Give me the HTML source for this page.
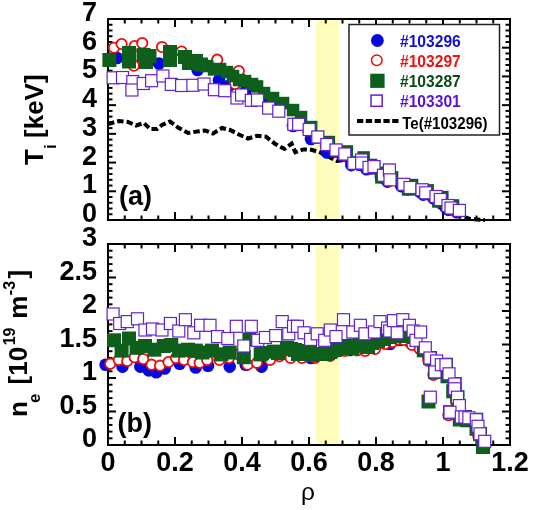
<!DOCTYPE html>
<html><head><meta charset="utf-8"><style>html,body{margin:0;padding:0;background:#fff;}svg{display:block;will-change:transform;}</style></head>
<body><svg width="533" height="510" viewBox="0 0 533 510">
<rect x="0" y="0" width="533" height="510" fill="#fff"/>
<rect x="316" y="20" width="23" height="199" fill="#fffcbc"/>
<rect x="316" y="245" width="23" height="199" fill="#fffcbc"/>
<rect x="108" y="19" width="402" height="201" fill="none" stroke="#000" stroke-width="2"/>
<line x1="124.75" y1="219" x2="124.75" y2="215.5" stroke="#000" stroke-width="2"/>
<line x1="124.75" y1="20" x2="124.75" y2="23.5" stroke="#000" stroke-width="2"/>
<line x1="141.5" y1="219" x2="141.5" y2="215.5" stroke="#000" stroke-width="2"/>
<line x1="141.5" y1="20" x2="141.5" y2="23.5" stroke="#000" stroke-width="2"/>
<line x1="158.25" y1="219" x2="158.25" y2="215.5" stroke="#000" stroke-width="2"/>
<line x1="158.25" y1="20" x2="158.25" y2="23.5" stroke="#000" stroke-width="2"/>
<line x1="175.0" y1="219" x2="175.0" y2="212" stroke="#000" stroke-width="2"/>
<line x1="175.0" y1="20" x2="175.0" y2="27" stroke="#000" stroke-width="2"/>
<line x1="191.75" y1="219" x2="191.75" y2="215.5" stroke="#000" stroke-width="2"/>
<line x1="191.75" y1="20" x2="191.75" y2="23.5" stroke="#000" stroke-width="2"/>
<line x1="208.5" y1="219" x2="208.5" y2="215.5" stroke="#000" stroke-width="2"/>
<line x1="208.5" y1="20" x2="208.5" y2="23.5" stroke="#000" stroke-width="2"/>
<line x1="225.25" y1="219" x2="225.25" y2="215.5" stroke="#000" stroke-width="2"/>
<line x1="225.25" y1="20" x2="225.25" y2="23.5" stroke="#000" stroke-width="2"/>
<line x1="242.0" y1="219" x2="242.0" y2="212" stroke="#000" stroke-width="2"/>
<line x1="242.0" y1="20" x2="242.0" y2="27" stroke="#000" stroke-width="2"/>
<line x1="258.75" y1="219" x2="258.75" y2="215.5" stroke="#000" stroke-width="2"/>
<line x1="258.75" y1="20" x2="258.75" y2="23.5" stroke="#000" stroke-width="2"/>
<line x1="275.5" y1="219" x2="275.5" y2="215.5" stroke="#000" stroke-width="2"/>
<line x1="275.5" y1="20" x2="275.5" y2="23.5" stroke="#000" stroke-width="2"/>
<line x1="292.25" y1="219" x2="292.25" y2="215.5" stroke="#000" stroke-width="2"/>
<line x1="292.25" y1="20" x2="292.25" y2="23.5" stroke="#000" stroke-width="2"/>
<line x1="309.0" y1="219" x2="309.0" y2="212" stroke="#000" stroke-width="2"/>
<line x1="309.0" y1="20" x2="309.0" y2="27" stroke="#000" stroke-width="2"/>
<line x1="325.75" y1="219" x2="325.75" y2="215.5" stroke="#000" stroke-width="2"/>
<line x1="325.75" y1="20" x2="325.75" y2="23.5" stroke="#000" stroke-width="2"/>
<line x1="342.5" y1="219" x2="342.5" y2="215.5" stroke="#000" stroke-width="2"/>
<line x1="342.5" y1="20" x2="342.5" y2="23.5" stroke="#000" stroke-width="2"/>
<line x1="359.25" y1="219" x2="359.25" y2="215.5" stroke="#000" stroke-width="2"/>
<line x1="359.25" y1="20" x2="359.25" y2="23.5" stroke="#000" stroke-width="2"/>
<line x1="376.0" y1="219" x2="376.0" y2="212" stroke="#000" stroke-width="2"/>
<line x1="376.0" y1="20" x2="376.0" y2="27" stroke="#000" stroke-width="2"/>
<line x1="392.75000000000006" y1="219" x2="392.75000000000006" y2="215.5" stroke="#000" stroke-width="2"/>
<line x1="392.75000000000006" y1="20" x2="392.75000000000006" y2="23.5" stroke="#000" stroke-width="2"/>
<line x1="409.5" y1="219" x2="409.5" y2="215.5" stroke="#000" stroke-width="2"/>
<line x1="409.5" y1="20" x2="409.5" y2="23.5" stroke="#000" stroke-width="2"/>
<line x1="426.25" y1="219" x2="426.25" y2="215.5" stroke="#000" stroke-width="2"/>
<line x1="426.25" y1="20" x2="426.25" y2="23.5" stroke="#000" stroke-width="2"/>
<line x1="443.0" y1="219" x2="443.0" y2="212" stroke="#000" stroke-width="2"/>
<line x1="443.0" y1="20" x2="443.0" y2="27" stroke="#000" stroke-width="2"/>
<line x1="459.75" y1="219" x2="459.75" y2="215.5" stroke="#000" stroke-width="2"/>
<line x1="459.75" y1="20" x2="459.75" y2="23.5" stroke="#000" stroke-width="2"/>
<line x1="476.50000000000006" y1="219" x2="476.50000000000006" y2="215.5" stroke="#000" stroke-width="2"/>
<line x1="476.50000000000006" y1="20" x2="476.50000000000006" y2="23.5" stroke="#000" stroke-width="2"/>
<line x1="493.25000000000006" y1="219" x2="493.25000000000006" y2="215.5" stroke="#000" stroke-width="2"/>
<line x1="493.25000000000006" y1="20" x2="493.25000000000006" y2="23.5" stroke="#000" stroke-width="2"/>
<line x1="109" y1="214.25714285714287" x2="112.5" y2="214.25714285714287" stroke="#000" stroke-width="2"/>
<line x1="509" y1="214.25714285714287" x2="505.5" y2="214.25714285714287" stroke="#000" stroke-width="2"/>
<line x1="109" y1="208.5142857142857" x2="112.5" y2="208.5142857142857" stroke="#000" stroke-width="2"/>
<line x1="509" y1="208.5142857142857" x2="505.5" y2="208.5142857142857" stroke="#000" stroke-width="2"/>
<line x1="109" y1="202.77142857142857" x2="112.5" y2="202.77142857142857" stroke="#000" stroke-width="2"/>
<line x1="509" y1="202.77142857142857" x2="505.5" y2="202.77142857142857" stroke="#000" stroke-width="2"/>
<line x1="109" y1="197.02857142857144" x2="112.5" y2="197.02857142857144" stroke="#000" stroke-width="2"/>
<line x1="509" y1="197.02857142857144" x2="505.5" y2="197.02857142857144" stroke="#000" stroke-width="2"/>
<line x1="109" y1="191.28571428571428" x2="116" y2="191.28571428571428" stroke="#000" stroke-width="2"/>
<line x1="509" y1="191.28571428571428" x2="502" y2="191.28571428571428" stroke="#000" stroke-width="2"/>
<line x1="109" y1="185.54285714285714" x2="112.5" y2="185.54285714285714" stroke="#000" stroke-width="2"/>
<line x1="509" y1="185.54285714285714" x2="505.5" y2="185.54285714285714" stroke="#000" stroke-width="2"/>
<line x1="109" y1="179.8" x2="112.5" y2="179.8" stroke="#000" stroke-width="2"/>
<line x1="509" y1="179.8" x2="505.5" y2="179.8" stroke="#000" stroke-width="2"/>
<line x1="109" y1="174.05714285714285" x2="112.5" y2="174.05714285714285" stroke="#000" stroke-width="2"/>
<line x1="509" y1="174.05714285714285" x2="505.5" y2="174.05714285714285" stroke="#000" stroke-width="2"/>
<line x1="109" y1="168.31428571428572" x2="112.5" y2="168.31428571428572" stroke="#000" stroke-width="2"/>
<line x1="509" y1="168.31428571428572" x2="505.5" y2="168.31428571428572" stroke="#000" stroke-width="2"/>
<line x1="109" y1="162.57142857142856" x2="116" y2="162.57142857142856" stroke="#000" stroke-width="2"/>
<line x1="509" y1="162.57142857142856" x2="502" y2="162.57142857142856" stroke="#000" stroke-width="2"/>
<line x1="109" y1="156.82857142857142" x2="112.5" y2="156.82857142857142" stroke="#000" stroke-width="2"/>
<line x1="509" y1="156.82857142857142" x2="505.5" y2="156.82857142857142" stroke="#000" stroke-width="2"/>
<line x1="109" y1="151.0857142857143" x2="112.5" y2="151.0857142857143" stroke="#000" stroke-width="2"/>
<line x1="509" y1="151.0857142857143" x2="505.5" y2="151.0857142857143" stroke="#000" stroke-width="2"/>
<line x1="109" y1="145.34285714285716" x2="112.5" y2="145.34285714285716" stroke="#000" stroke-width="2"/>
<line x1="509" y1="145.34285714285716" x2="505.5" y2="145.34285714285716" stroke="#000" stroke-width="2"/>
<line x1="109" y1="139.6" x2="112.5" y2="139.6" stroke="#000" stroke-width="2"/>
<line x1="509" y1="139.6" x2="505.5" y2="139.6" stroke="#000" stroke-width="2"/>
<line x1="109" y1="133.85714285714286" x2="116" y2="133.85714285714286" stroke="#000" stroke-width="2"/>
<line x1="509" y1="133.85714285714286" x2="502" y2="133.85714285714286" stroke="#000" stroke-width="2"/>
<line x1="109" y1="128.1142857142857" x2="112.5" y2="128.1142857142857" stroke="#000" stroke-width="2"/>
<line x1="509" y1="128.1142857142857" x2="505.5" y2="128.1142857142857" stroke="#000" stroke-width="2"/>
<line x1="109" y1="122.37142857142857" x2="112.5" y2="122.37142857142857" stroke="#000" stroke-width="2"/>
<line x1="509" y1="122.37142857142857" x2="505.5" y2="122.37142857142857" stroke="#000" stroke-width="2"/>
<line x1="109" y1="116.62857142857143" x2="112.5" y2="116.62857142857143" stroke="#000" stroke-width="2"/>
<line x1="509" y1="116.62857142857143" x2="505.5" y2="116.62857142857143" stroke="#000" stroke-width="2"/>
<line x1="109" y1="110.88571428571429" x2="112.5" y2="110.88571428571429" stroke="#000" stroke-width="2"/>
<line x1="509" y1="110.88571428571429" x2="505.5" y2="110.88571428571429" stroke="#000" stroke-width="2"/>
<line x1="109" y1="105.14285714285714" x2="116" y2="105.14285714285714" stroke="#000" stroke-width="2"/>
<line x1="509" y1="105.14285714285714" x2="502" y2="105.14285714285714" stroke="#000" stroke-width="2"/>
<line x1="109" y1="99.4" x2="112.5" y2="99.4" stroke="#000" stroke-width="2"/>
<line x1="509" y1="99.4" x2="505.5" y2="99.4" stroke="#000" stroke-width="2"/>
<line x1="109" y1="93.65714285714286" x2="112.5" y2="93.65714285714286" stroke="#000" stroke-width="2"/>
<line x1="509" y1="93.65714285714286" x2="505.5" y2="93.65714285714286" stroke="#000" stroke-width="2"/>
<line x1="109" y1="87.91428571428571" x2="112.5" y2="87.91428571428571" stroke="#000" stroke-width="2"/>
<line x1="509" y1="87.91428571428571" x2="505.5" y2="87.91428571428571" stroke="#000" stroke-width="2"/>
<line x1="109" y1="82.17142857142858" x2="112.5" y2="82.17142857142858" stroke="#000" stroke-width="2"/>
<line x1="509" y1="82.17142857142858" x2="505.5" y2="82.17142857142858" stroke="#000" stroke-width="2"/>
<line x1="109" y1="76.42857142857142" x2="116" y2="76.42857142857142" stroke="#000" stroke-width="2"/>
<line x1="509" y1="76.42857142857142" x2="502" y2="76.42857142857142" stroke="#000" stroke-width="2"/>
<line x1="109" y1="70.68571428571428" x2="112.5" y2="70.68571428571428" stroke="#000" stroke-width="2"/>
<line x1="509" y1="70.68571428571428" x2="505.5" y2="70.68571428571428" stroke="#000" stroke-width="2"/>
<line x1="109" y1="64.94285714285715" x2="112.5" y2="64.94285714285715" stroke="#000" stroke-width="2"/>
<line x1="509" y1="64.94285714285715" x2="505.5" y2="64.94285714285715" stroke="#000" stroke-width="2"/>
<line x1="109" y1="59.19999999999999" x2="112.5" y2="59.19999999999999" stroke="#000" stroke-width="2"/>
<line x1="509" y1="59.19999999999999" x2="505.5" y2="59.19999999999999" stroke="#000" stroke-width="2"/>
<line x1="109" y1="53.457142857142856" x2="112.5" y2="53.457142857142856" stroke="#000" stroke-width="2"/>
<line x1="509" y1="53.457142857142856" x2="505.5" y2="53.457142857142856" stroke="#000" stroke-width="2"/>
<line x1="109" y1="47.71428571428572" x2="116" y2="47.71428571428572" stroke="#000" stroke-width="2"/>
<line x1="509" y1="47.71428571428572" x2="502" y2="47.71428571428572" stroke="#000" stroke-width="2"/>
<line x1="109" y1="41.97142857142856" x2="112.5" y2="41.97142857142856" stroke="#000" stroke-width="2"/>
<line x1="509" y1="41.97142857142856" x2="505.5" y2="41.97142857142856" stroke="#000" stroke-width="2"/>
<line x1="109" y1="36.22857142857143" x2="112.5" y2="36.22857142857143" stroke="#000" stroke-width="2"/>
<line x1="509" y1="36.22857142857143" x2="505.5" y2="36.22857142857143" stroke="#000" stroke-width="2"/>
<line x1="109" y1="30.485714285714295" x2="112.5" y2="30.485714285714295" stroke="#000" stroke-width="2"/>
<line x1="509" y1="30.485714285714295" x2="505.5" y2="30.485714285714295" stroke="#000" stroke-width="2"/>
<line x1="109" y1="24.742857142857133" x2="112.5" y2="24.742857142857133" stroke="#000" stroke-width="2"/>
<line x1="509" y1="24.742857142857133" x2="505.5" y2="24.742857142857133" stroke="#000" stroke-width="2"/>
<rect x="108" y="244" width="402" height="201" fill="none" stroke="#000" stroke-width="2"/>
<line x1="124.75" y1="444" x2="124.75" y2="440.5" stroke="#000" stroke-width="2"/>
<line x1="124.75" y1="245" x2="124.75" y2="248.5" stroke="#000" stroke-width="2"/>
<line x1="141.5" y1="444" x2="141.5" y2="440.5" stroke="#000" stroke-width="2"/>
<line x1="141.5" y1="245" x2="141.5" y2="248.5" stroke="#000" stroke-width="2"/>
<line x1="158.25" y1="444" x2="158.25" y2="440.5" stroke="#000" stroke-width="2"/>
<line x1="158.25" y1="245" x2="158.25" y2="248.5" stroke="#000" stroke-width="2"/>
<line x1="175.0" y1="444" x2="175.0" y2="437" stroke="#000" stroke-width="2"/>
<line x1="175.0" y1="245" x2="175.0" y2="252" stroke="#000" stroke-width="2"/>
<line x1="191.75" y1="444" x2="191.75" y2="440.5" stroke="#000" stroke-width="2"/>
<line x1="191.75" y1="245" x2="191.75" y2="248.5" stroke="#000" stroke-width="2"/>
<line x1="208.5" y1="444" x2="208.5" y2="440.5" stroke="#000" stroke-width="2"/>
<line x1="208.5" y1="245" x2="208.5" y2="248.5" stroke="#000" stroke-width="2"/>
<line x1="225.25" y1="444" x2="225.25" y2="440.5" stroke="#000" stroke-width="2"/>
<line x1="225.25" y1="245" x2="225.25" y2="248.5" stroke="#000" stroke-width="2"/>
<line x1="242.0" y1="444" x2="242.0" y2="437" stroke="#000" stroke-width="2"/>
<line x1="242.0" y1="245" x2="242.0" y2="252" stroke="#000" stroke-width="2"/>
<line x1="258.75" y1="444" x2="258.75" y2="440.5" stroke="#000" stroke-width="2"/>
<line x1="258.75" y1="245" x2="258.75" y2="248.5" stroke="#000" stroke-width="2"/>
<line x1="275.5" y1="444" x2="275.5" y2="440.5" stroke="#000" stroke-width="2"/>
<line x1="275.5" y1="245" x2="275.5" y2="248.5" stroke="#000" stroke-width="2"/>
<line x1="292.25" y1="444" x2="292.25" y2="440.5" stroke="#000" stroke-width="2"/>
<line x1="292.25" y1="245" x2="292.25" y2="248.5" stroke="#000" stroke-width="2"/>
<line x1="309.0" y1="444" x2="309.0" y2="437" stroke="#000" stroke-width="2"/>
<line x1="309.0" y1="245" x2="309.0" y2="252" stroke="#000" stroke-width="2"/>
<line x1="325.75" y1="444" x2="325.75" y2="440.5" stroke="#000" stroke-width="2"/>
<line x1="325.75" y1="245" x2="325.75" y2="248.5" stroke="#000" stroke-width="2"/>
<line x1="342.5" y1="444" x2="342.5" y2="440.5" stroke="#000" stroke-width="2"/>
<line x1="342.5" y1="245" x2="342.5" y2="248.5" stroke="#000" stroke-width="2"/>
<line x1="359.25" y1="444" x2="359.25" y2="440.5" stroke="#000" stroke-width="2"/>
<line x1="359.25" y1="245" x2="359.25" y2="248.5" stroke="#000" stroke-width="2"/>
<line x1="376.0" y1="444" x2="376.0" y2="437" stroke="#000" stroke-width="2"/>
<line x1="376.0" y1="245" x2="376.0" y2="252" stroke="#000" stroke-width="2"/>
<line x1="392.75000000000006" y1="444" x2="392.75000000000006" y2="440.5" stroke="#000" stroke-width="2"/>
<line x1="392.75000000000006" y1="245" x2="392.75000000000006" y2="248.5" stroke="#000" stroke-width="2"/>
<line x1="409.5" y1="444" x2="409.5" y2="440.5" stroke="#000" stroke-width="2"/>
<line x1="409.5" y1="245" x2="409.5" y2="248.5" stroke="#000" stroke-width="2"/>
<line x1="426.25" y1="444" x2="426.25" y2="440.5" stroke="#000" stroke-width="2"/>
<line x1="426.25" y1="245" x2="426.25" y2="248.5" stroke="#000" stroke-width="2"/>
<line x1="443.0" y1="444" x2="443.0" y2="437" stroke="#000" stroke-width="2"/>
<line x1="443.0" y1="245" x2="443.0" y2="252" stroke="#000" stroke-width="2"/>
<line x1="459.75" y1="444" x2="459.75" y2="440.5" stroke="#000" stroke-width="2"/>
<line x1="459.75" y1="245" x2="459.75" y2="248.5" stroke="#000" stroke-width="2"/>
<line x1="476.50000000000006" y1="444" x2="476.50000000000006" y2="440.5" stroke="#000" stroke-width="2"/>
<line x1="476.50000000000006" y1="245" x2="476.50000000000006" y2="248.5" stroke="#000" stroke-width="2"/>
<line x1="493.25000000000006" y1="444" x2="493.25000000000006" y2="440.5" stroke="#000" stroke-width="2"/>
<line x1="493.25000000000006" y1="245" x2="493.25000000000006" y2="248.5" stroke="#000" stroke-width="2"/>
<line x1="109" y1="438.3" x2="112.5" y2="438.3" stroke="#000" stroke-width="2"/>
<line x1="509" y1="438.3" x2="505.5" y2="438.3" stroke="#000" stroke-width="2"/>
<line x1="109" y1="431.6" x2="112.5" y2="431.6" stroke="#000" stroke-width="2"/>
<line x1="509" y1="431.6" x2="505.5" y2="431.6" stroke="#000" stroke-width="2"/>
<line x1="109" y1="424.9" x2="112.5" y2="424.9" stroke="#000" stroke-width="2"/>
<line x1="509" y1="424.9" x2="505.5" y2="424.9" stroke="#000" stroke-width="2"/>
<line x1="109" y1="418.2" x2="112.5" y2="418.2" stroke="#000" stroke-width="2"/>
<line x1="509" y1="418.2" x2="505.5" y2="418.2" stroke="#000" stroke-width="2"/>
<line x1="109" y1="411.5" x2="116" y2="411.5" stroke="#000" stroke-width="2"/>
<line x1="509" y1="411.5" x2="502" y2="411.5" stroke="#000" stroke-width="2"/>
<line x1="109" y1="404.8" x2="112.5" y2="404.8" stroke="#000" stroke-width="2"/>
<line x1="509" y1="404.8" x2="505.5" y2="404.8" stroke="#000" stroke-width="2"/>
<line x1="109" y1="398.1" x2="112.5" y2="398.1" stroke="#000" stroke-width="2"/>
<line x1="509" y1="398.1" x2="505.5" y2="398.1" stroke="#000" stroke-width="2"/>
<line x1="109" y1="391.4" x2="112.5" y2="391.4" stroke="#000" stroke-width="2"/>
<line x1="509" y1="391.4" x2="505.5" y2="391.4" stroke="#000" stroke-width="2"/>
<line x1="109" y1="384.7" x2="112.5" y2="384.7" stroke="#000" stroke-width="2"/>
<line x1="509" y1="384.7" x2="505.5" y2="384.7" stroke="#000" stroke-width="2"/>
<line x1="109" y1="378.0" x2="116" y2="378.0" stroke="#000" stroke-width="2"/>
<line x1="509" y1="378.0" x2="502" y2="378.0" stroke="#000" stroke-width="2"/>
<line x1="109" y1="371.3" x2="112.5" y2="371.3" stroke="#000" stroke-width="2"/>
<line x1="509" y1="371.3" x2="505.5" y2="371.3" stroke="#000" stroke-width="2"/>
<line x1="109" y1="364.6" x2="112.5" y2="364.6" stroke="#000" stroke-width="2"/>
<line x1="509" y1="364.6" x2="505.5" y2="364.6" stroke="#000" stroke-width="2"/>
<line x1="109" y1="357.9" x2="112.5" y2="357.9" stroke="#000" stroke-width="2"/>
<line x1="509" y1="357.9" x2="505.5" y2="357.9" stroke="#000" stroke-width="2"/>
<line x1="109" y1="351.2" x2="112.5" y2="351.2" stroke="#000" stroke-width="2"/>
<line x1="509" y1="351.2" x2="505.5" y2="351.2" stroke="#000" stroke-width="2"/>
<line x1="109" y1="344.5" x2="116" y2="344.5" stroke="#000" stroke-width="2"/>
<line x1="509" y1="344.5" x2="502" y2="344.5" stroke="#000" stroke-width="2"/>
<line x1="109" y1="337.8" x2="112.5" y2="337.8" stroke="#000" stroke-width="2"/>
<line x1="509" y1="337.8" x2="505.5" y2="337.8" stroke="#000" stroke-width="2"/>
<line x1="109" y1="331.1" x2="112.5" y2="331.1" stroke="#000" stroke-width="2"/>
<line x1="509" y1="331.1" x2="505.5" y2="331.1" stroke="#000" stroke-width="2"/>
<line x1="109" y1="324.4" x2="112.5" y2="324.4" stroke="#000" stroke-width="2"/>
<line x1="509" y1="324.4" x2="505.5" y2="324.4" stroke="#000" stroke-width="2"/>
<line x1="109" y1="317.7" x2="112.5" y2="317.7" stroke="#000" stroke-width="2"/>
<line x1="509" y1="317.7" x2="505.5" y2="317.7" stroke="#000" stroke-width="2"/>
<line x1="109" y1="311.0" x2="116" y2="311.0" stroke="#000" stroke-width="2"/>
<line x1="509" y1="311.0" x2="502" y2="311.0" stroke="#000" stroke-width="2"/>
<line x1="109" y1="304.3" x2="112.5" y2="304.3" stroke="#000" stroke-width="2"/>
<line x1="509" y1="304.3" x2="505.5" y2="304.3" stroke="#000" stroke-width="2"/>
<line x1="109" y1="297.6" x2="112.5" y2="297.6" stroke="#000" stroke-width="2"/>
<line x1="509" y1="297.6" x2="505.5" y2="297.6" stroke="#000" stroke-width="2"/>
<line x1="109" y1="290.9" x2="112.5" y2="290.9" stroke="#000" stroke-width="2"/>
<line x1="509" y1="290.9" x2="505.5" y2="290.9" stroke="#000" stroke-width="2"/>
<line x1="109" y1="284.2" x2="112.5" y2="284.2" stroke="#000" stroke-width="2"/>
<line x1="509" y1="284.2" x2="505.5" y2="284.2" stroke="#000" stroke-width="2"/>
<line x1="109" y1="277.5" x2="116" y2="277.5" stroke="#000" stroke-width="2"/>
<line x1="509" y1="277.5" x2="502" y2="277.5" stroke="#000" stroke-width="2"/>
<line x1="109" y1="270.8" x2="112.5" y2="270.8" stroke="#000" stroke-width="2"/>
<line x1="509" y1="270.8" x2="505.5" y2="270.8" stroke="#000" stroke-width="2"/>
<line x1="109" y1="264.1" x2="112.5" y2="264.1" stroke="#000" stroke-width="2"/>
<line x1="509" y1="264.1" x2="505.5" y2="264.1" stroke="#000" stroke-width="2"/>
<line x1="109" y1="257.4" x2="112.5" y2="257.4" stroke="#000" stroke-width="2"/>
<line x1="509" y1="257.4" x2="505.5" y2="257.4" stroke="#000" stroke-width="2"/>
<line x1="109" y1="250.7" x2="112.5" y2="250.7" stroke="#000" stroke-width="2"/>
<line x1="509" y1="250.7" x2="505.5" y2="250.7" stroke="#000" stroke-width="2"/>
<polyline points="108,124 119,121 128,122 136,125.5 144,123 150,129 157,129 162,125 170,121.5 178,127.5 188,133 197,131.5 205,130.5 213,133.5 222,128 230,130 240,135 248,138.5 257,135.8 266,136.7 275,143.8 284.5,149 291.6,143.7 295.3,152.2 303.3,149.4 311.7,149.8 320.7,152.7 337,161 345,160 355,165 370,170 390,181 410,190 425,196 437,206 455,214 470,219 485,220" fill="none" stroke="#000" stroke-width="4" stroke-dasharray="6.5 3"/>
<circle cx="117.0" cy="58.0" r="6.3" fill="#0606de"/>
<circle cx="159.0" cy="63.5" r="6.3" fill="#0606de"/>
<circle cx="197.6" cy="70.0" r="6.3" fill="#0606de"/>
<circle cx="219.0" cy="80.3" r="6.3" fill="#0606de"/>
<circle cx="230.0" cy="85.0" r="6.3" fill="#0606de"/>
<circle cx="245.0" cy="92.0" r="6.3" fill="#0606de"/>
<circle cx="262.0" cy="100.0" r="6.3" fill="#0606de"/>
<circle cx="276.0" cy="108.0" r="6.3" fill="#0606de"/>
<circle cx="293.0" cy="126.0" r="6.3" fill="#0606de"/>
<circle cx="311.0" cy="139.0" r="6.3" fill="#0606de"/>
<circle cx="327.0" cy="152.5" r="6.3" fill="#0606de"/>
<circle cx="333.5" cy="151.8" r="6.3" fill="#0606de"/>
<circle cx="342.3" cy="155.8" r="6.3" fill="#0606de"/>
<circle cx="351.3" cy="165.1" r="6.3" fill="#0606de"/>
<circle cx="359.1" cy="161.8" r="6.3" fill="#0606de"/>
<circle cx="359.1" cy="164.8" r="6.3" fill="#0606de"/>
<circle cx="366.5" cy="169.2" r="6.3" fill="#0606de"/>
<circle cx="371.5" cy="168.4" r="6.3" fill="#0606de"/>
<circle cx="380.9" cy="177.1" r="6.3" fill="#0606de"/>
<circle cx="386.9" cy="171.8" r="6.3" fill="#0606de"/>
<circle cx="387.5" cy="181.6" r="6.3" fill="#0606de"/>
<circle cx="401.2" cy="186.1" r="6.3" fill="#0606de"/>
<circle cx="407.5" cy="189.3" r="6.3" fill="#0606de"/>
<circle cx="419.5" cy="191.6" r="6.3" fill="#0606de"/>
<circle cx="423.2" cy="194.6" r="6.3" fill="#0606de"/>
<circle cx="433.5" cy="198.3" r="6.3" fill="#0606de"/>
<circle cx="437.8" cy="201.3" r="6.3" fill="#0606de"/>
<circle cx="445.5" cy="207.3" r="6.3" fill="#0606de"/>
<circle cx="448.5" cy="209.8" r="6.3" fill="#0606de"/>
<circle cx="456.9" cy="212.2" r="6.3" fill="#0606de"/>
<circle cx="114.0" cy="47.8" r="5.2" fill="#fff" stroke="#ea0c0c" stroke-width="1.8"/>
<circle cx="121.6" cy="44.0" r="5.2" fill="#fff" stroke="#ea0c0c" stroke-width="1.8"/>
<circle cx="134.7" cy="46.0" r="5.2" fill="#fff" stroke="#ea0c0c" stroke-width="1.8"/>
<circle cx="142.2" cy="43.1" r="5.2" fill="#fff" stroke="#ea0c0c" stroke-width="1.8"/>
<circle cx="133.8" cy="65.6" r="5.2" fill="#fff" stroke="#ea0c0c" stroke-width="1.8"/>
<circle cx="162.0" cy="47.0" r="5.2" fill="#fff" stroke="#ea0c0c" stroke-width="1.8"/>
<circle cx="181.6" cy="51.6" r="5.2" fill="#fff" stroke="#ea0c0c" stroke-width="1.8"/>
<circle cx="196.6" cy="60.6" r="5.2" fill="#fff" stroke="#ea0c0c" stroke-width="1.8"/>
<circle cx="217.2" cy="59.7" r="5.2" fill="#fff" stroke="#ea0c0c" stroke-width="1.8"/>
<circle cx="238.8" cy="71.0" r="5.2" fill="#fff" stroke="#ea0c0c" stroke-width="1.8"/>
<circle cx="235.0" cy="84.0" r="5.2" fill="#fff" stroke="#ea0c0c" stroke-width="1.8"/>
<circle cx="292.8" cy="125.3" r="5.2" fill="#fff" stroke="#ea0c0c" stroke-width="1.8"/>
<circle cx="297.6" cy="125.3" r="5.2" fill="#fff" stroke="#ea0c0c" stroke-width="1.8"/>
<circle cx="308.2" cy="130.5" r="5.2" fill="#fff" stroke="#ea0c0c" stroke-width="1.8"/>
<circle cx="316.8" cy="138.0" r="5.2" fill="#fff" stroke="#ea0c0c" stroke-width="1.8"/>
<circle cx="325.8" cy="145.5" r="5.2" fill="#fff" stroke="#ea0c0c" stroke-width="1.8"/>
<circle cx="335.0" cy="151.0" r="5.2" fill="#fff" stroke="#ea0c0c" stroke-width="1.8"/>
<circle cx="343.8" cy="155.0" r="5.2" fill="#fff" stroke="#ea0c0c" stroke-width="1.8"/>
<circle cx="352.8" cy="164.3" r="5.2" fill="#fff" stroke="#ea0c0c" stroke-width="1.8"/>
<circle cx="360.6" cy="161.0" r="5.2" fill="#fff" stroke="#ea0c0c" stroke-width="1.8"/>
<circle cx="360.6" cy="164.0" r="5.2" fill="#fff" stroke="#ea0c0c" stroke-width="1.8"/>
<circle cx="368.0" cy="168.4" r="5.2" fill="#fff" stroke="#ea0c0c" stroke-width="1.8"/>
<circle cx="373.0" cy="167.6" r="5.2" fill="#fff" stroke="#ea0c0c" stroke-width="1.8"/>
<circle cx="382.4" cy="176.3" r="5.2" fill="#fff" stroke="#ea0c0c" stroke-width="1.8"/>
<circle cx="388.4" cy="171.0" r="5.2" fill="#fff" stroke="#ea0c0c" stroke-width="1.8"/>
<circle cx="389.0" cy="180.8" r="5.2" fill="#fff" stroke="#ea0c0c" stroke-width="1.8"/>
<circle cx="402.7" cy="185.3" r="5.2" fill="#fff" stroke="#ea0c0c" stroke-width="1.8"/>
<circle cx="409.0" cy="188.5" r="5.2" fill="#fff" stroke="#ea0c0c" stroke-width="1.8"/>
<circle cx="421.0" cy="190.8" r="5.2" fill="#fff" stroke="#ea0c0c" stroke-width="1.8"/>
<circle cx="424.7" cy="193.8" r="5.2" fill="#fff" stroke="#ea0c0c" stroke-width="1.8"/>
<circle cx="435.0" cy="197.5" r="5.2" fill="#fff" stroke="#ea0c0c" stroke-width="1.8"/>
<circle cx="439.3" cy="200.5" r="5.2" fill="#fff" stroke="#ea0c0c" stroke-width="1.8"/>
<circle cx="447.0" cy="206.5" r="5.2" fill="#fff" stroke="#ea0c0c" stroke-width="1.8"/>
<circle cx="450.0" cy="209.0" r="5.2" fill="#fff" stroke="#ea0c0c" stroke-width="1.8"/>
<circle cx="458.4" cy="211.4" r="5.2" fill="#fff" stroke="#ea0c0c" stroke-width="1.8"/>
<rect x="102.4" y="53.0" width="14" height="14" fill="#0e5e1c"/>
<rect x="122.0" y="46.0" width="14" height="14" fill="#0e5e1c"/>
<rect x="122.0" y="54.5" width="14" height="14" fill="#0e5e1c"/>
<rect x="136.5" y="48.0" width="14" height="14" fill="#0e5e1c"/>
<rect x="142.5" y="49.0" width="14" height="14" fill="#0e5e1c"/>
<rect x="139.0" y="55.0" width="14" height="14" fill="#0e5e1c"/>
<rect x="163.0" y="45.0" width="14" height="14" fill="#0e5e1c"/>
<rect x="163.0" y="53.0" width="14" height="14" fill="#0e5e1c"/>
<rect x="178.0" y="50.0" width="14" height="14" fill="#0e5e1c"/>
<rect x="182.0" y="56.0" width="14" height="14" fill="#0e5e1c"/>
<rect x="189.0" y="54.0" width="14" height="14" fill="#0e5e1c"/>
<rect x="194.0" y="57.5" width="14" height="14" fill="#0e5e1c"/>
<rect x="200.8" y="59.8" width="12.5" height="12.5" fill="#0e5e1c"/>
<rect x="207.8" y="63.2" width="12.5" height="12.5" fill="#0e5e1c"/>
<rect x="213.8" y="62.8" width="12.5" height="12.5" fill="#0e5e1c"/>
<rect x="220.8" y="65.8" width="12.5" height="12.5" fill="#0e5e1c"/>
<rect x="226.8" y="69.8" width="12.5" height="12.5" fill="#0e5e1c"/>
<rect x="232.8" y="73.8" width="12.5" height="12.5" fill="#0e5e1c"/>
<rect x="238.8" y="74.8" width="12.5" height="12.5" fill="#0e5e1c"/>
<rect x="245.8" y="77.8" width="12.5" height="12.5" fill="#0e5e1c"/>
<rect x="250.8" y="80.2" width="12.5" height="12.5" fill="#0e5e1c"/>
<rect x="257.8" y="86.8" width="12.5" height="12.5" fill="#0e5e1c"/>
<rect x="266.8" y="91.8" width="12.5" height="12.5" fill="#0e5e1c"/>
<rect x="276.8" y="96.8" width="12.5" height="12.5" fill="#0e5e1c"/>
<rect x="286.8" y="103.8" width="12.5" height="12.5" fill="#0e5e1c"/>
<rect x="294.8" y="110.8" width="12.5" height="12.5" fill="#0e5e1c"/>
<rect x="304.9" y="120.8" width="12.5" height="12.5" fill="#0e5e1c"/>
<rect x="322.6" y="135.8" width="12.5" height="12.5" fill="#0e5e1c"/>
<rect x="340.6" y="145.2" width="12.5" height="12.5" fill="#0e5e1c"/>
<rect x="357.4" y="151.2" width="12.5" height="12.5" fill="#0e5e1c"/>
<rect x="364.8" y="158.7" width="12.5" height="12.5" fill="#0e5e1c"/>
<rect x="379.1" y="166.6" width="12.5" height="12.5" fill="#0e5e1c"/>
<rect x="385.8" y="171.1" width="12.5" height="12.5" fill="#0e5e1c"/>
<rect x="405.8" y="178.8" width="12.5" height="12.5" fill="#0e5e1c"/>
<rect x="421.4" y="184.1" width="12.5" height="12.5" fill="#0e5e1c"/>
<rect x="436.1" y="190.8" width="12.5" height="12.5" fill="#0e5e1c"/>
<rect x="446.8" y="199.2" width="12.5" height="12.5" fill="#0e5e1c"/>
<rect x="311.6" y="130.8" width="12.5" height="12.5" fill="#0e5e1c"/>
<rect x="329.8" y="143.8" width="12.5" height="12.5" fill="#0e5e1c"/>
<rect x="347.6" y="157.1" width="12.5" height="12.5" fill="#0e5e1c"/>
<rect x="355.4" y="156.8" width="12.5" height="12.5" fill="#0e5e1c"/>
<rect x="367.8" y="160.3" width="12.5" height="12.5" fill="#0e5e1c"/>
<rect x="383.1" y="163.8" width="12.5" height="12.5" fill="#0e5e1c"/>
<rect x="397.4" y="178.1" width="12.5" height="12.5" fill="#0e5e1c"/>
<rect x="415.8" y="183.6" width="12.5" height="12.5" fill="#0e5e1c"/>
<rect x="429.8" y="190.2" width="12.5" height="12.5" fill="#0e5e1c"/>
<rect x="441.8" y="199.2" width="12.5" height="12.5" fill="#0e5e1c"/>
<rect x="453.1" y="204.2" width="12.5" height="12.5" fill="#0e5e1c"/>
<rect x="353.4" y="155.8" width="12.5" height="12.5" fill="#0e5e1c"/>
<rect x="375.1" y="171.1" width="12.5" height="12.5" fill="#0e5e1c"/>
<rect x="401.8" y="183.2" width="12.5" height="12.5" fill="#0e5e1c"/>
<rect x="432.1" y="195.2" width="12.5" height="12.5" fill="#0e5e1c"/>
<rect x="107.1" y="71.8" width="12" height="12" fill="#fff" stroke="#6420d4" stroke-width="1.2"/>
<rect x="116.5" y="71.5" width="12" height="12" fill="#fff" stroke="#6420d4" stroke-width="1.2"/>
<rect x="126.8" y="75.6" width="12" height="12" fill="#fff" stroke="#6420d4" stroke-width="1.2"/>
<rect x="125.9" y="84.0" width="12" height="12" fill="#fff" stroke="#6420d4" stroke-width="1.2"/>
<rect x="137.2" y="77.5" width="12" height="12" fill="#fff" stroke="#6420d4" stroke-width="1.2"/>
<rect x="145.6" y="74.7" width="12" height="12" fill="#fff" stroke="#6420d4" stroke-width="1.2"/>
<rect x="156.9" y="70.0" width="12" height="12" fill="#fff" stroke="#6420d4" stroke-width="1.2"/>
<rect x="165.3" y="78.4" width="12" height="12" fill="#fff" stroke="#6420d4" stroke-width="1.2"/>
<rect x="175.6" y="79.5" width="12" height="12" fill="#fff" stroke="#6420d4" stroke-width="1.2"/>
<rect x="186.9" y="79.3" width="12" height="12" fill="#fff" stroke="#6420d4" stroke-width="1.2"/>
<rect x="198.0" y="78.0" width="12" height="12" fill="#fff" stroke="#6420d4" stroke-width="1.2"/>
<rect x="208.4" y="83.7" width="12" height="12" fill="#fff" stroke="#6420d4" stroke-width="1.2"/>
<rect x="218.7" y="84.7" width="12" height="12" fill="#fff" stroke="#6420d4" stroke-width="1.2"/>
<rect x="231.0" y="92.0" width="12" height="12" fill="#fff" stroke="#6420d4" stroke-width="1.2"/>
<rect x="235.6" y="89.0" width="12" height="12" fill="#fff" stroke="#6420d4" stroke-width="1.2"/>
<rect x="245.3" y="94.3" width="12" height="12" fill="#fff" stroke="#6420d4" stroke-width="1.2"/>
<rect x="251.5" y="94.0" width="12" height="12" fill="#fff" stroke="#6420d4" stroke-width="1.2"/>
<rect x="262.6" y="102.1" width="12" height="12" fill="#fff" stroke="#6420d4" stroke-width="1.2"/>
<rect x="272.8" y="105.2" width="12" height="12" fill="#fff" stroke="#6420d4" stroke-width="1.2"/>
<rect x="287.8" y="118.3" width="12" height="12" fill="#fff" stroke="#6420d4" stroke-width="1.2"/>
<rect x="292.6" y="118.3" width="12" height="12" fill="#fff" stroke="#6420d4" stroke-width="1.2"/>
<rect x="303.2" y="123.5" width="12" height="12" fill="#fff" stroke="#6420d4" stroke-width="1.2"/>
<rect x="311.8" y="131.0" width="12" height="12" fill="#fff" stroke="#6420d4" stroke-width="1.2"/>
<rect x="320.8" y="138.5" width="12" height="12" fill="#fff" stroke="#6420d4" stroke-width="1.2"/>
<rect x="330.0" y="144.0" width="12" height="12" fill="#fff" stroke="#6420d4" stroke-width="1.2"/>
<rect x="338.8" y="148.0" width="12" height="12" fill="#fff" stroke="#6420d4" stroke-width="1.2"/>
<rect x="347.8" y="157.3" width="12" height="12" fill="#fff" stroke="#6420d4" stroke-width="1.2"/>
<rect x="355.6" y="154.0" width="12" height="12" fill="#fff" stroke="#6420d4" stroke-width="1.2"/>
<rect x="355.6" y="157.0" width="12" height="12" fill="#fff" stroke="#6420d4" stroke-width="1.2"/>
<rect x="363.0" y="161.4" width="12" height="12" fill="#fff" stroke="#6420d4" stroke-width="1.2"/>
<rect x="368.0" y="160.6" width="12" height="12" fill="#fff" stroke="#6420d4" stroke-width="1.2"/>
<rect x="377.4" y="169.3" width="12" height="12" fill="#fff" stroke="#6420d4" stroke-width="1.2"/>
<rect x="383.4" y="164.0" width="12" height="12" fill="#fff" stroke="#6420d4" stroke-width="1.2"/>
<rect x="384.0" y="173.8" width="12" height="12" fill="#fff" stroke="#6420d4" stroke-width="1.2"/>
<rect x="397.7" y="178.3" width="12" height="12" fill="#fff" stroke="#6420d4" stroke-width="1.2"/>
<rect x="404.0" y="181.5" width="12" height="12" fill="#fff" stroke="#6420d4" stroke-width="1.2"/>
<rect x="416.0" y="183.8" width="12" height="12" fill="#fff" stroke="#6420d4" stroke-width="1.2"/>
<rect x="419.7" y="186.8" width="12" height="12" fill="#fff" stroke="#6420d4" stroke-width="1.2"/>
<rect x="430.0" y="190.5" width="12" height="12" fill="#fff" stroke="#6420d4" stroke-width="1.2"/>
<rect x="434.3" y="193.5" width="12" height="12" fill="#fff" stroke="#6420d4" stroke-width="1.2"/>
<rect x="442.0" y="199.5" width="12" height="12" fill="#fff" stroke="#6420d4" stroke-width="1.2"/>
<rect x="445.0" y="202.0" width="12" height="12" fill="#fff" stroke="#6420d4" stroke-width="1.2"/>
<rect x="453.4" y="204.4" width="12" height="12" fill="#fff" stroke="#6420d4" stroke-width="1.2"/>
<circle cx="105.6" cy="364.7" r="6.3" fill="#0606de"/>
<circle cx="122.5" cy="366.6" r="6.3" fill="#0606de"/>
<circle cx="140.3" cy="366.6" r="6.3" fill="#0606de"/>
<circle cx="148.8" cy="370.4" r="6.3" fill="#0606de"/>
<circle cx="156.3" cy="372.2" r="6.3" fill="#0606de"/>
<circle cx="164.7" cy="368.5" r="6.3" fill="#0606de"/>
<circle cx="179.7" cy="363.8" r="6.3" fill="#0606de"/>
<circle cx="195.7" cy="367.5" r="6.3" fill="#0606de"/>
<circle cx="208.0" cy="365.7" r="6.3" fill="#0606de"/>
<circle cx="229.7" cy="366.6" r="6.3" fill="#0606de"/>
<circle cx="245.7" cy="364.7" r="6.3" fill="#0606de"/>
<circle cx="261.6" cy="366.6" r="6.3" fill="#0606de"/>
<circle cx="311.0" cy="358.0" r="6.3" fill="#0606de"/>
<circle cx="335.0" cy="352.0" r="6.3" fill="#0606de"/>
<circle cx="350.0" cy="350.0" r="6.3" fill="#0606de"/>
<circle cx="373.0" cy="344.0" r="6.3" fill="#0606de"/>
<circle cx="390.0" cy="344.0" r="6.3" fill="#0606de"/>
<circle cx="400.0" cy="340.0" r="6.3" fill="#0606de"/>
<circle cx="410.0" cy="342.0" r="6.3" fill="#0606de"/>
<circle cx="420.0" cy="348.0" r="6.3" fill="#0606de"/>
<circle cx="424.3" cy="349.8" r="6.3" fill="#0606de"/>
<circle cx="429.0" cy="360.0" r="6.3" fill="#0606de"/>
<circle cx="435.6" cy="363.0" r="6.3" fill="#0606de"/>
<circle cx="434.0" cy="373.9" r="6.3" fill="#0606de"/>
<circle cx="440.3" cy="366.7" r="6.3" fill="#0606de"/>
<circle cx="445.0" cy="366.7" r="6.3" fill="#0606de"/>
<circle cx="448.0" cy="375.8" r="6.3" fill="#0606de"/>
<circle cx="453.7" cy="386.0" r="6.3" fill="#0606de"/>
<circle cx="453.7" cy="390.8" r="6.3" fill="#0606de"/>
<circle cx="456.5" cy="399.2" r="6.3" fill="#0606de"/>
<circle cx="458.4" cy="407.6" r="6.3" fill="#0606de"/>
<circle cx="449.0" cy="414.2" r="6.3" fill="#0606de"/>
<circle cx="460.3" cy="419.0" r="6.3" fill="#0606de"/>
<circle cx="464.0" cy="419.0" r="6.3" fill="#0606de"/>
<circle cx="467.8" cy="419.8" r="6.3" fill="#0606de"/>
<circle cx="475.3" cy="421.7" r="6.3" fill="#0606de"/>
<circle cx="477.0" cy="428.3" r="6.3" fill="#0606de"/>
<circle cx="479.0" cy="435.8" r="6.3" fill="#0606de"/>
<circle cx="483.7" cy="443.3" r="6.3" fill="#0606de"/>
<circle cx="110.3" cy="363.8" r="5.2" fill="#fff" stroke="#ea0c0c" stroke-width="1.8"/>
<circle cx="118.8" cy="360.0" r="5.2" fill="#fff" stroke="#ea0c0c" stroke-width="1.8"/>
<circle cx="127.2" cy="361.0" r="5.2" fill="#fff" stroke="#ea0c0c" stroke-width="1.8"/>
<circle cx="134.7" cy="357.2" r="5.2" fill="#fff" stroke="#ea0c0c" stroke-width="1.8"/>
<circle cx="143.2" cy="359.0" r="5.2" fill="#fff" stroke="#ea0c0c" stroke-width="1.8"/>
<circle cx="151.6" cy="364.7" r="5.2" fill="#fff" stroke="#ea0c0c" stroke-width="1.8"/>
<circle cx="160.0" cy="365.7" r="5.2" fill="#fff" stroke="#ea0c0c" stroke-width="1.8"/>
<circle cx="168.5" cy="362.0" r="5.2" fill="#fff" stroke="#ea0c0c" stroke-width="1.8"/>
<circle cx="176.0" cy="358.0" r="5.2" fill="#fff" stroke="#ea0c0c" stroke-width="1.8"/>
<circle cx="184.0" cy="360.0" r="5.2" fill="#fff" stroke="#ea0c0c" stroke-width="1.8"/>
<circle cx="192.9" cy="362.0" r="5.2" fill="#fff" stroke="#ea0c0c" stroke-width="1.8"/>
<circle cx="199.7" cy="362.8" r="5.2" fill="#fff" stroke="#ea0c0c" stroke-width="1.8"/>
<circle cx="207.2" cy="360.0" r="5.2" fill="#fff" stroke="#ea0c0c" stroke-width="1.8"/>
<circle cx="219.4" cy="360.0" r="5.2" fill="#fff" stroke="#ea0c0c" stroke-width="1.8"/>
<circle cx="229.0" cy="358.0" r="5.2" fill="#fff" stroke="#ea0c0c" stroke-width="1.8"/>
<circle cx="239.0" cy="354.4" r="5.2" fill="#fff" stroke="#ea0c0c" stroke-width="1.8"/>
<circle cx="247.5" cy="364.7" r="5.2" fill="#fff" stroke="#ea0c0c" stroke-width="1.8"/>
<circle cx="257.0" cy="362.8" r="5.2" fill="#fff" stroke="#ea0c0c" stroke-width="1.8"/>
<circle cx="270.0" cy="360.0" r="5.2" fill="#fff" stroke="#ea0c0c" stroke-width="1.8"/>
<circle cx="279.4" cy="356.3" r="5.2" fill="#fff" stroke="#ea0c0c" stroke-width="1.8"/>
<circle cx="290.7" cy="358.0" r="5.2" fill="#fff" stroke="#ea0c0c" stroke-width="1.8"/>
<circle cx="302.0" cy="358.0" r="5.2" fill="#fff" stroke="#ea0c0c" stroke-width="1.8"/>
<circle cx="315.0" cy="358.0" r="5.2" fill="#fff" stroke="#ea0c0c" stroke-width="1.8"/>
<circle cx="330.0" cy="356.0" r="5.2" fill="#fff" stroke="#ea0c0c" stroke-width="1.8"/>
<circle cx="345.0" cy="351.0" r="5.2" fill="#fff" stroke="#ea0c0c" stroke-width="1.8"/>
<circle cx="357.0" cy="350.5" r="5.2" fill="#fff" stroke="#ea0c0c" stroke-width="1.8"/>
<circle cx="365.0" cy="351.0" r="5.2" fill="#fff" stroke="#ea0c0c" stroke-width="1.8"/>
<circle cx="375.0" cy="349.0" r="5.2" fill="#fff" stroke="#ea0c0c" stroke-width="1.8"/>
<circle cx="385.0" cy="344.0" r="5.2" fill="#fff" stroke="#ea0c0c" stroke-width="1.8"/>
<circle cx="392.5" cy="342.0" r="5.2" fill="#fff" stroke="#ea0c0c" stroke-width="1.8"/>
<circle cx="398.0" cy="339.5" r="5.2" fill="#fff" stroke="#ea0c0c" stroke-width="1.8"/>
<circle cx="403.8" cy="340.0" r="5.2" fill="#fff" stroke="#ea0c0c" stroke-width="1.8"/>
<circle cx="412.0" cy="345.0" r="5.2" fill="#fff" stroke="#ea0c0c" stroke-width="1.8"/>
<circle cx="419.7" cy="349.0" r="5.2" fill="#fff" stroke="#ea0c0c" stroke-width="1.8"/>
<circle cx="428.0" cy="357.0" r="5.2" fill="#fff" stroke="#ea0c0c" stroke-width="1.8"/>
<circle cx="423.8" cy="350.8" r="5.2" fill="#fff" stroke="#ea0c0c" stroke-width="1.8"/>
<circle cx="428.5" cy="361.0" r="5.2" fill="#fff" stroke="#ea0c0c" stroke-width="1.8"/>
<circle cx="435.1" cy="364.0" r="5.2" fill="#fff" stroke="#ea0c0c" stroke-width="1.8"/>
<circle cx="433.5" cy="374.9" r="5.2" fill="#fff" stroke="#ea0c0c" stroke-width="1.8"/>
<circle cx="439.8" cy="367.7" r="5.2" fill="#fff" stroke="#ea0c0c" stroke-width="1.8"/>
<circle cx="444.5" cy="367.7" r="5.2" fill="#fff" stroke="#ea0c0c" stroke-width="1.8"/>
<circle cx="447.5" cy="376.8" r="5.2" fill="#fff" stroke="#ea0c0c" stroke-width="1.8"/>
<circle cx="453.2" cy="387.0" r="5.2" fill="#fff" stroke="#ea0c0c" stroke-width="1.8"/>
<circle cx="453.2" cy="391.8" r="5.2" fill="#fff" stroke="#ea0c0c" stroke-width="1.8"/>
<circle cx="456.0" cy="400.2" r="5.2" fill="#fff" stroke="#ea0c0c" stroke-width="1.8"/>
<circle cx="457.9" cy="408.6" r="5.2" fill="#fff" stroke="#ea0c0c" stroke-width="1.8"/>
<circle cx="448.5" cy="415.2" r="5.2" fill="#fff" stroke="#ea0c0c" stroke-width="1.8"/>
<circle cx="459.8" cy="420.0" r="5.2" fill="#fff" stroke="#ea0c0c" stroke-width="1.8"/>
<circle cx="463.5" cy="420.0" r="5.2" fill="#fff" stroke="#ea0c0c" stroke-width="1.8"/>
<circle cx="467.3" cy="420.8" r="5.2" fill="#fff" stroke="#ea0c0c" stroke-width="1.8"/>
<circle cx="474.8" cy="422.7" r="5.2" fill="#fff" stroke="#ea0c0c" stroke-width="1.8"/>
<circle cx="476.5" cy="429.3" r="5.2" fill="#fff" stroke="#ea0c0c" stroke-width="1.8"/>
<circle cx="478.5" cy="436.8" r="5.2" fill="#fff" stroke="#ea0c0c" stroke-width="1.8"/>
<circle cx="483.2" cy="444.3" r="5.2" fill="#fff" stroke="#ea0c0c" stroke-width="1.8"/>
<rect x="107.0" y="333.3" width="14" height="14" fill="#0e5e1c"/>
<rect x="114.6" y="343.6" width="14" height="14" fill="#0e5e1c"/>
<rect x="122.0" y="331.5" width="14" height="14" fill="#0e5e1c"/>
<rect x="129.6" y="340.8" width="14" height="14" fill="#0e5e1c"/>
<rect x="138.0" y="339.0" width="14" height="14" fill="#0e5e1c"/>
<rect x="147.4" y="342.7" width="14" height="14" fill="#0e5e1c"/>
<rect x="156.8" y="339.0" width="14" height="14" fill="#0e5e1c"/>
<rect x="164.3" y="338.0" width="14" height="14" fill="#0e5e1c"/>
<rect x="171.8" y="343.6" width="14" height="14" fill="#0e5e1c"/>
<rect x="181.0" y="342.7" width="14" height="14" fill="#0e5e1c"/>
<rect x="188.7" y="343.6" width="14" height="14" fill="#0e5e1c"/>
<rect x="195.5" y="345.5" width="14" height="14" fill="#0e5e1c"/>
<rect x="205.0" y="343.6" width="14" height="14" fill="#0e5e1c"/>
<rect x="214.3" y="347.4" width="14" height="14" fill="#0e5e1c"/>
<rect x="222.7" y="345.5" width="14" height="14" fill="#0e5e1c"/>
<rect x="236.8" y="350.2" width="14" height="14" fill="#0e5e1c"/>
<rect x="242.4" y="332.4" width="14" height="14" fill="#0e5e1c"/>
<rect x="253.7" y="347.4" width="14" height="14" fill="#0e5e1c"/>
<rect x="266.8" y="344.6" width="14" height="14" fill="#0e5e1c"/>
<rect x="280.0" y="340.8" width="14" height="14" fill="#0e5e1c"/>
<rect x="280.0" y="340.8" width="14" height="14" fill="#0e5e1c"/>
<rect x="284.0" y="341.9" width="14" height="14" fill="#0e5e1c"/>
<rect x="288.0" y="343.0" width="14" height="14" fill="#0e5e1c"/>
<rect x="293.0" y="344.0" width="14" height="14" fill="#0e5e1c"/>
<rect x="298.0" y="345.0" width="14" height="14" fill="#0e5e1c"/>
<rect x="303.0" y="346.0" width="14" height="14" fill="#0e5e1c"/>
<rect x="308.0" y="347.0" width="14" height="14" fill="#0e5e1c"/>
<rect x="313.0" y="347.0" width="14" height="14" fill="#0e5e1c"/>
<rect x="318.0" y="347.0" width="14" height="14" fill="#0e5e1c"/>
<rect x="323.0" y="345.0" width="14" height="14" fill="#0e5e1c"/>
<rect x="328.0" y="343.0" width="14" height="14" fill="#0e5e1c"/>
<rect x="334.5" y="341.0" width="14" height="14" fill="#0e5e1c"/>
<rect x="341.0" y="339.0" width="14" height="14" fill="#0e5e1c"/>
<rect x="347.0" y="338.5" width="14" height="14" fill="#0e5e1c"/>
<rect x="353.0" y="338.0" width="14" height="14" fill="#0e5e1c"/>
<rect x="359.0" y="337.0" width="14" height="14" fill="#0e5e1c"/>
<rect x="365.0" y="336.0" width="14" height="14" fill="#0e5e1c"/>
<rect x="371.0" y="334.0" width="14" height="14" fill="#0e5e1c"/>
<rect x="377.0" y="332.0" width="14" height="14" fill="#0e5e1c"/>
<rect x="383.0" y="330.0" width="14" height="14" fill="#0e5e1c"/>
<rect x="390.5" y="329.0" width="14" height="14" fill="#0e5e1c"/>
<rect x="398.0" y="328.0" width="14" height="14" fill="#0e5e1c"/>
<rect x="403.0" y="329.0" width="14" height="14" fill="#0e5e1c"/>
<rect x="408.0" y="330.0" width="14" height="14" fill="#0e5e1c"/>
<rect x="421.5" y="394.5" width="14" height="14" fill="#0e5e1c"/>
<rect x="255.0" y="346.0" width="14" height="14" fill="#0e5e1c"/>
<rect x="271.0" y="346.0" width="14" height="14" fill="#0e5e1c"/>
<rect x="291.0" y="347.0" width="14" height="14" fill="#0e5e1c"/>
<rect x="305.0" y="348.0" width="14" height="14" fill="#0e5e1c"/>
<rect x="321.0" y="346.0" width="14" height="14" fill="#0e5e1c"/>
<rect x="345.0" y="341.0" width="14" height="14" fill="#0e5e1c"/>
<rect x="361.0" y="340.0" width="14" height="14" fill="#0e5e1c"/>
<rect x="416.8" y="343.3" width="14" height="14" fill="#0e5e1c"/>
<rect x="423.0" y="351.0" width="14" height="14" fill="#0e5e1c"/>
<rect x="428.1" y="356.5" width="14" height="14" fill="#0e5e1c"/>
<rect x="428.0" y="364.9" width="14" height="14" fill="#0e5e1c"/>
<rect x="432.8" y="360.2" width="14" height="14" fill="#0e5e1c"/>
<rect x="439.0" y="357.7" width="14" height="14" fill="#0e5e1c"/>
<rect x="440.5" y="369.3" width="14" height="14" fill="#0e5e1c"/>
<rect x="447.7" y="377.0" width="14" height="14" fill="#0e5e1c"/>
<rect x="446.2" y="384.3" width="14" height="14" fill="#0e5e1c"/>
<rect x="450.5" y="390.2" width="14" height="14" fill="#0e5e1c"/>
<rect x="450.9" y="401.1" width="14" height="14" fill="#0e5e1c"/>
<rect x="443.0" y="405.2" width="14" height="14" fill="#0e5e1c"/>
<rect x="452.8" y="412.5" width="14" height="14" fill="#0e5e1c"/>
<rect x="458.0" y="410.0" width="14" height="14" fill="#0e5e1c"/>
<rect x="460.3" y="413.3" width="14" height="14" fill="#0e5e1c"/>
<rect x="469.3" y="412.7" width="14" height="14" fill="#0e5e1c"/>
<rect x="469.5" y="421.8" width="14" height="14" fill="#0e5e1c"/>
<rect x="473.0" y="426.8" width="14" height="14" fill="#0e5e1c"/>
<rect x="476.2" y="436.8" width="14" height="14" fill="#0e5e1c"/>
<rect x="476.0" y="440.0" width="14" height="14" fill="#0e5e1c"/>
<rect x="107.1" y="308.0" width="12" height="12" fill="#fff" stroke="#6420d4" stroke-width="1.2"/>
<rect x="113.7" y="317.5" width="12" height="12" fill="#fff" stroke="#6420d4" stroke-width="1.2"/>
<rect x="121.2" y="315.6" width="12" height="12" fill="#fff" stroke="#6420d4" stroke-width="1.2"/>
<rect x="131.5" y="312.8" width="12" height="12" fill="#fff" stroke="#6420d4" stroke-width="1.2"/>
<rect x="139.0" y="324.0" width="12" height="12" fill="#fff" stroke="#6420d4" stroke-width="1.2"/>
<rect x="146.5" y="323.0" width="12" height="12" fill="#fff" stroke="#6420d4" stroke-width="1.2"/>
<rect x="156.0" y="324.0" width="12" height="12" fill="#fff" stroke="#6420d4" stroke-width="1.2"/>
<rect x="164.4" y="317.5" width="12" height="12" fill="#fff" stroke="#6420d4" stroke-width="1.2"/>
<rect x="172.8" y="325.0" width="12" height="12" fill="#fff" stroke="#6420d4" stroke-width="1.2"/>
<rect x="179.4" y="313.7" width="12" height="12" fill="#fff" stroke="#6420d4" stroke-width="1.2"/>
<rect x="187.8" y="326.8" width="12" height="12" fill="#fff" stroke="#6420d4" stroke-width="1.2"/>
<rect x="194.6" y="319.3" width="12" height="12" fill="#fff" stroke="#6420d4" stroke-width="1.2"/>
<rect x="204.0" y="319.3" width="12" height="12" fill="#fff" stroke="#6420d4" stroke-width="1.2"/>
<rect x="211.5" y="330.6" width="12" height="12" fill="#fff" stroke="#6420d4" stroke-width="1.2"/>
<rect x="221.8" y="332.5" width="12" height="12" fill="#fff" stroke="#6420d4" stroke-width="1.2"/>
<rect x="230.3" y="320.3" width="12" height="12" fill="#fff" stroke="#6420d4" stroke-width="1.2"/>
<rect x="237.8" y="340.0" width="12" height="12" fill="#fff" stroke="#6420d4" stroke-width="1.2"/>
<rect x="245.3" y="320.3" width="12" height="12" fill="#fff" stroke="#6420d4" stroke-width="1.2"/>
<rect x="251.8" y="334.3" width="12" height="12" fill="#fff" stroke="#6420d4" stroke-width="1.2"/>
<rect x="259.4" y="331.5" width="12" height="12" fill="#fff" stroke="#6420d4" stroke-width="1.2"/>
<rect x="269.7" y="329.6" width="12" height="12" fill="#fff" stroke="#6420d4" stroke-width="1.2"/>
<rect x="276.2" y="315.6" width="12" height="12" fill="#fff" stroke="#6420d4" stroke-width="1.2"/>
<rect x="282.8" y="327.8" width="12" height="12" fill="#fff" stroke="#6420d4" stroke-width="1.2"/>
<rect x="287.5" y="320.3" width="12" height="12" fill="#fff" stroke="#6420d4" stroke-width="1.2"/>
<rect x="291.5" y="320.3" width="12" height="12" fill="#fff" stroke="#6420d4" stroke-width="1.2"/>
<rect x="298.0" y="326.8" width="12" height="12" fill="#fff" stroke="#6420d4" stroke-width="1.2"/>
<rect x="304.6" y="333.4" width="12" height="12" fill="#fff" stroke="#6420d4" stroke-width="1.2"/>
<rect x="311.2" y="327.8" width="12" height="12" fill="#fff" stroke="#6420d4" stroke-width="1.2"/>
<rect x="318.7" y="334.3" width="12" height="12" fill="#fff" stroke="#6420d4" stroke-width="1.2"/>
<rect x="324.3" y="324.0" width="12" height="12" fill="#fff" stroke="#6420d4" stroke-width="1.2"/>
<rect x="330.0" y="330.6" width="12" height="12" fill="#fff" stroke="#6420d4" stroke-width="1.2"/>
<rect x="337.5" y="313.7" width="12" height="12" fill="#fff" stroke="#6420d4" stroke-width="1.2"/>
<rect x="346.8" y="326.0" width="12" height="12" fill="#fff" stroke="#6420d4" stroke-width="1.2"/>
<rect x="354.4" y="319.3" width="12" height="12" fill="#fff" stroke="#6420d4" stroke-width="1.2"/>
<rect x="359.0" y="327.8" width="12" height="12" fill="#fff" stroke="#6420d4" stroke-width="1.2"/>
<rect x="368.4" y="326.0" width="12" height="12" fill="#fff" stroke="#6420d4" stroke-width="1.2"/>
<rect x="374.0" y="315.6" width="12" height="12" fill="#fff" stroke="#6420d4" stroke-width="1.2"/>
<rect x="381.6" y="322.0" width="12" height="12" fill="#fff" stroke="#6420d4" stroke-width="1.2"/>
<rect x="383.7" y="325.0" width="12" height="12" fill="#fff" stroke="#6420d4" stroke-width="1.2"/>
<rect x="387.4" y="314.6" width="12" height="12" fill="#fff" stroke="#6420d4" stroke-width="1.2"/>
<rect x="391.2" y="326.8" width="12" height="12" fill="#fff" stroke="#6420d4" stroke-width="1.2"/>
<rect x="396.8" y="313.7" width="12" height="12" fill="#fff" stroke="#6420d4" stroke-width="1.2"/>
<rect x="403.4" y="319.3" width="12" height="12" fill="#fff" stroke="#6420d4" stroke-width="1.2"/>
<rect x="407.1" y="325.0" width="12" height="12" fill="#fff" stroke="#6420d4" stroke-width="1.2"/>
<rect x="410.0" y="334.3" width="12" height="12" fill="#fff" stroke="#6420d4" stroke-width="1.2"/>
<rect x="414.6" y="326.0" width="12" height="12" fill="#fff" stroke="#6420d4" stroke-width="1.2"/>
<rect x="419.3" y="341.8" width="12" height="12" fill="#fff" stroke="#6420d4" stroke-width="1.2"/>
<rect x="424.0" y="352.0" width="12" height="12" fill="#fff" stroke="#6420d4" stroke-width="1.2"/>
<rect x="424.3" y="391.2" width="12" height="12" fill="#fff" stroke="#6420d4" stroke-width="1.2"/>
<rect x="430.6" y="355.0" width="12" height="12" fill="#fff" stroke="#6420d4" stroke-width="1.2"/>
<rect x="429.0" y="365.9" width="12" height="12" fill="#fff" stroke="#6420d4" stroke-width="1.2"/>
<rect x="435.3" y="358.7" width="12" height="12" fill="#fff" stroke="#6420d4" stroke-width="1.2"/>
<rect x="440.0" y="358.7" width="12" height="12" fill="#fff" stroke="#6420d4" stroke-width="1.2"/>
<rect x="443.0" y="367.8" width="12" height="12" fill="#fff" stroke="#6420d4" stroke-width="1.2"/>
<rect x="448.7" y="378.0" width="12" height="12" fill="#fff" stroke="#6420d4" stroke-width="1.2"/>
<rect x="448.7" y="382.8" width="12" height="12" fill="#fff" stroke="#6420d4" stroke-width="1.2"/>
<rect x="451.5" y="391.2" width="12" height="12" fill="#fff" stroke="#6420d4" stroke-width="1.2"/>
<rect x="453.4" y="399.6" width="12" height="12" fill="#fff" stroke="#6420d4" stroke-width="1.2"/>
<rect x="444.0" y="406.2" width="12" height="12" fill="#fff" stroke="#6420d4" stroke-width="1.2"/>
<rect x="455.3" y="411.0" width="12" height="12" fill="#fff" stroke="#6420d4" stroke-width="1.2"/>
<rect x="459.0" y="411.0" width="12" height="12" fill="#fff" stroke="#6420d4" stroke-width="1.2"/>
<rect x="462.8" y="411.8" width="12" height="12" fill="#fff" stroke="#6420d4" stroke-width="1.2"/>
<rect x="470.3" y="413.7" width="12" height="12" fill="#fff" stroke="#6420d4" stroke-width="1.2"/>
<rect x="472.0" y="420.3" width="12" height="12" fill="#fff" stroke="#6420d4" stroke-width="1.2"/>
<rect x="474.0" y="427.8" width="12" height="12" fill="#fff" stroke="#6420d4" stroke-width="1.2"/>
<rect x="478.7" y="435.3" width="12" height="12" fill="#fff" stroke="#6420d4" stroke-width="1.2"/>
<g font-family="'Liberation Sans', sans-serif" font-weight="bold" font-size="27" fill="#000">
<text x="97" y="222.0" text-anchor="end">0</text>
<text x="97" y="193.28571428571428" text-anchor="end">1</text>
<text x="97" y="164.57142857142856" text-anchor="end">2</text>
<text x="97" y="135.85714285714286" text-anchor="end">3</text>
<text x="97" y="107.14285714285714" text-anchor="end">4</text>
<text x="97" y="78.42857142857142" text-anchor="end">5</text>
<text x="97" y="49.71428571428572" text-anchor="end">6</text>
<text x="97" y="21.0" text-anchor="end">7</text>
<text x="97" y="447.0" text-anchor="end">0</text>
<text x="97" y="413.5" text-anchor="end">0.5</text>
<text x="97" y="380.0" text-anchor="end">1</text>
<text x="97" y="346.5" text-anchor="end">1.5</text>
<text x="97" y="313.0" text-anchor="end">2</text>
<text x="97" y="279.5" text-anchor="end">2.5</text>
<text x="97" y="246.0" text-anchor="end">3</text>
<text x="108.0" y="471" text-anchor="middle">0</text>
<text x="175.0" y="471" text-anchor="middle">0.2</text>
<text x="242.0" y="471" text-anchor="middle">0.4</text>
<text x="309.0" y="471" text-anchor="middle">0.6</text>
<text x="376.0" y="471" text-anchor="middle">0.8</text>
<text x="443.0" y="471" text-anchor="middle">1</text>
<text x="510.0" y="471" text-anchor="middle">1.2</text>
<text x="119" y="205">(a)</text>
<text x="117.5" y="431.5">(b)</text>
</g>
<g font-family="'Liberation Sans', sans-serif" font-weight="bold" fill="#000">
<text transform="translate(43,165) rotate(-90)" font-size="26">T<tspan font-size="17" dy="13">i</tspan><tspan dy="-13" dx="-0.8"> [keV]</tspan></text>
<text transform="translate(27,417) rotate(-90)" font-size="26">n<tspan font-size="17" dy="13" dx="-2">e</tspan><tspan dy="-13" dx="2"> [10</tspan><tspan font-size="16" dy="-12" dx="1.5">19</tspan><tspan dy="12" dx="1.5"> m</tspan><tspan font-size="16" dy="-12" dx="0.5">-3</tspan><tspan dy="12" dx="2.5">]</tspan></text>
</g>
<text x="308" y="500" font-family="'Liberation Sans', sans-serif" font-size="24.5" text-anchor="middle">ρ</text>
<rect x="349" y="24.5" width="150.5" height="110.5" fill="#fff" stroke="#222" stroke-width="1.5"/>
<circle cx="377.4" cy="40.5" r="6.4" fill="#0606de"/>
<circle cx="376.8" cy="60.3" r="5.3" fill="#fff" stroke="#ea0c0c" stroke-width="1.5"/>
<rect x="370.2" y="73.7" width="14.4" height="14.2" fill="#0e5e1c"/>
<rect x="371" y="95.1" width="11.2" height="11.2" fill="none" stroke="#6420d4" stroke-width="1.5"/>
<line x1="357" y1="121" x2="399" y2="121" stroke="#000" stroke-width="4" stroke-dasharray="6.3 2.5"/>
<g font-family="'Liberation Sans', sans-serif" font-weight="bold" font-size="16">
<text transform="translate(400,46.6) scale(0.977,1)" fill="#1010d0">#103296</text>
<text transform="translate(400,66.6) scale(0.977,1)" fill="#f01010">#103297</text>
<text transform="translate(400,86.6) scale(0.977,1)" fill="#0a4a14">#103287</text>
<text transform="translate(400,106.6) scale(0.977,1)" fill="#5a14d0">#103301</text>
<text transform="translate(402.2,128.6) scale(0.943,1)" fill="#000">Te(#103296)</text>
</g>
</svg></body></html>
